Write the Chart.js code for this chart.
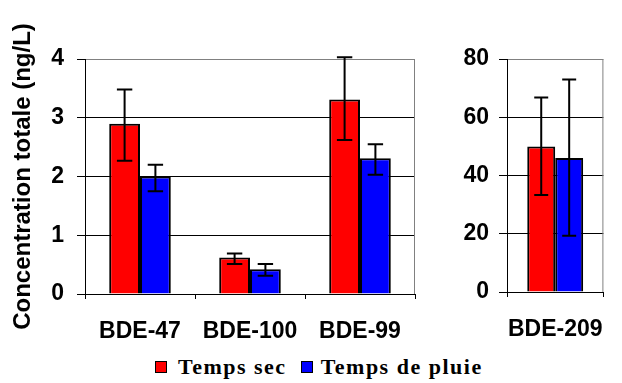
<!DOCTYPE html>
<html>
<head>
<meta charset="utf-8">
<script src="https://cdn.jsdelivr.net/npm/chart.js@4.4.1/dist/chart.umd.min.js"></script>
<style>
  body { margin: 0; background: #fff; width: 622px; height: 383px; position: relative; overflow: hidden; }
  canvas { position: absolute; top: 0; }
  #left { left: 0; }
  #right { left: 440px; }
  .legend { position: absolute; left: 155px; top: 354px; display: flex; align-items: center;
    font: bold 22px "Liberation Serif", "Times New Roman", serif; letter-spacing: 1.5px; color: #000; white-space: nowrap; }
  .sw { width: 10px; height: 10px; border: 1.5px solid #000; display: inline-block; }
</style>
</head>
<body>
<canvas id="left" width="440" height="345"></canvas>
<canvas id="right" width="182" height="345"></canvas>
<div class="legend">
  <span class="sw" style="background:#ff0000"></span><span style="margin:0 14px 0 11px">Temps sec</span>
  <span class="sw" style="background:#0000ff"></span><span style="margin-left:8px">Temps de pluie</span>
</div>
<script>
// left panel
const leftLabels = ["BDE-47", "BDE-100", "BDE-99"];
const leftSec = [2.9, 0.62, 3.31];
const leftSecLow = [2.27, 0.51, 2.62];
const leftSecHigh = [3.48, 0.69, 4.03];
const leftPluie = [2.0, 0.42, 2.31];
const leftPluieLow = [1.75, 0.31, 2.03];
const leftPluieHigh = [2.2, 0.51, 2.55];

// right panel
const rightLabels = ["BDE-209"];
const rightSec = [50];
const rightSecLow = [33.3];
const rightSecHigh = [66.8];
const rightPluie = [46];
const rightPluieLow = [19.3];
const rightPluieHigh = [73];

const seriesNames = ["Temps sec", "Temps de pluie"];
const seriesColors = ["#ff0000", "#0000ff"];

const errorBars = {
  id: "errorBars",
  afterDatasetsDraw(chart) {
    const ctx = chart.ctx;
    const y = chart.scales.y;
    ctx.save();
    ctx.strokeStyle = "#000";
    ctx.lineWidth = 2;
    chart.data.datasets.forEach((ds, i) => {
      chart.getDatasetMeta(i).data.forEach((bar, j) => {
        const top = y.getPixelForValue(ds.errHigh[j]);
        const bot = y.getPixelForValue(ds.errLow[j]);
        const cap = bar.width * 0.25;
        ctx.beginPath();
        ctx.moveTo(bar.x, top); ctx.lineTo(bar.x, bot);
        ctx.moveTo(bar.x - cap, top); ctx.lineTo(bar.x + cap, top);
        ctx.moveTo(bar.x - cap, bot); ctx.lineTo(bar.x + cap, bot);
        ctx.stroke();
      });
    });
    ctx.restore();
  },
};

const rightBorder = {
  id: "rightBorder",
  beforeDatasetsDraw(chart) {
    const { ctx, chartArea } = chart;
    ctx.save();
    ctx.strokeStyle = "#808080";
    ctx.lineWidth = 1;
    ctx.beginPath();
    ctx.moveTo(chartArea.right - 0.5, chartArea.top);
    ctx.lineTo(chartArea.right - 0.5, chartArea.bottom);
    ctx.stroke();
    ctx.restore();
  },
};

function makeChart(id, labels, sec, secLow, secHigh, pluie, pluieLow, pluieHigh, opts) {
  const ctx = document.getElementById(id).getContext("2d");
  return new Chart(ctx, {
    type: "bar",
    data: {
      labels: labels,
      datasets: [
        { label: seriesNames[0], data: sec, errLow: secLow, errHigh: secHigh,
          backgroundColor: seriesColors[0], borderColor: "#000", borderWidth: 2,
          categoryPercentage: opts.catPct, barPercentage: 1 },
        { label: seriesNames[1], data: pluie, errLow: pluieLow, errHigh: pluieHigh,
          backgroundColor: seriesColors[1], borderColor: "#000", borderWidth: 2,
          categoryPercentage: opts.catPct, barPercentage: 1 },
      ],
    },
    options: {
      responsive: false,
      animation: false,
      layout: { padding: { top: 59, right: opts.padRight, left: 0, bottom: 0 } },
      plugins: { legend: { display: false }, tooltip: { enabled: false } },
      scales: {
        x: {
          grid: { drawOnChartArea: false, tickLength: 5, color: "#000", offset: true },
          border: { color: "#000", width: 1 },
          ticks: { color: "#000", padding: 19, font: { family: "Liberation Sans", size: 23, weight: "bold" } },
          afterFit: (axis) => { axis.height = opts.xHeight; },
        },
        y: {
          min: 0,
          max: opts.max,
          ticks: { stepSize: opts.step, color: "#000", padding: opts.tickPad,
            font: { family: "Liberation Sans", size: 23, weight: "bold" } },
          grid: {
            color: (c) => (c.tick && c.tick.value === opts.max ? "#808080" : "#000"),
            tickColor: "#000",
            tickLength: 8,
            lineWidth: 1,
          },
          border: { color: "#000", width: 1 },
          title: opts.title
            ? { display: true, text: opts.title, color: "#000", padding: { top: 9, bottom: 0 },
                font: { family: "Liberation Sans", size: 24, weight: "bold" } }
            : { display: false },
          afterFit: (axis) => { axis.width = opts.yWidth; },
        },
      },
    },
    plugins: [errorBars, rightBorder],
  });
}

makeChart("left", leftLabels, leftSec, leftSecLow, leftSecHigh, leftPluie, leftPluieLow, leftPluieHigh,
  { catPct: 0.56, padRight: 25, xHeight: 51, yWidth: 85, max: 4, step: 1, tickPad: 13,
    title: "Concentration totale (ng/L)" });
makeChart("right", rightLabels, rightSec, rightSecLow, rightSecHigh, rightPluie, rightPluieLow, rightPluieHigh,
  { catPct: 0.58, padRight: 1, xHeight: 53, yWidth: 67, max: 80, step: 20, tickPad: 10, title: null });
</script>
</body>
</html>
